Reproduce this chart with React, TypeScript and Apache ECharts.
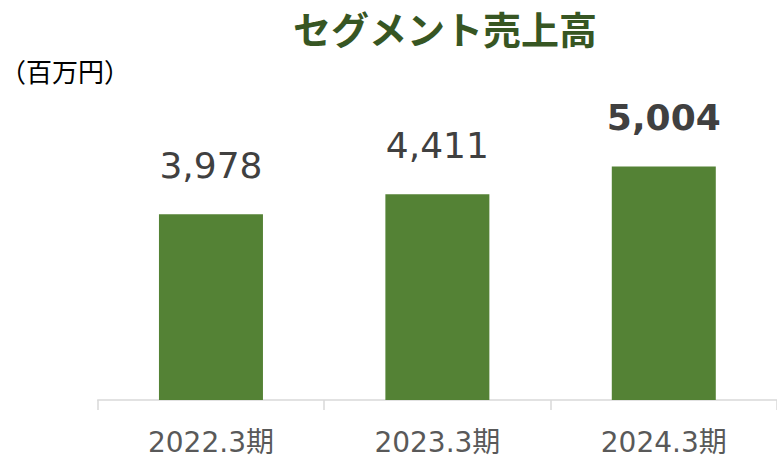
import React, { useEffect, useRef } from "react";
import * as echarts from "echarts";

const categories = ["2022.3期", "2023.3期", "2024.3期"];
const sales = [3978, 4411, 5004];
const highlightIndex = 2;

export default function App() {
  const ref = useRef<HTMLDivElement>(null);
  useEffect(() => {
    if (!ref.current) return;
    const chart = echarts.init(ref.current, null, { renderer: "svg" });
    const fmt = (v: number) => v.toLocaleString("en-US");
    chart.setOption({
      animation: false,
      backgroundColor: "#ffffff",
      title: [
        {
          text: "セグメント売上高",
          left: 440,
          top: 3,
          textAlign: "center",
          textStyle: {
            fontFamily: "Noto Sans CJK JP",
            fontSize: 38,
            fontWeight: "bold",
            color: "#375623",
          },
        },
        {
          text: "（百万円）",
          left: -5,
          top: 52,
          textStyle: {
            fontFamily: "Noto Sans CJK JP",
            fontSize: 26,
            fontWeight: "normal",
            color: "#000000",
          },
        },
      ],
      grid: { left: 97.75, right: -3.75, top: 120, bottom: 60, containLabel: false },
      xAxis: {
        type: "category",
        data: categories,
        axisLine: { show: true, lineStyle: { color: "#d9d9d9", width: 1.5 } },
        axisTick: { show: true, length: 10, lineStyle: { color: "#d9d9d9", width: 1.5 } },
        axisLabel: {
          margin: 29,
          lineHeight: 26,
          fontFamily: "DejaVu Sans, Noto Sans CJK JP",
          fontSize: 28,
          color: "#595959",
        },
      },
      yAxis: {
        type: "value",
        min: 0,
        max: 6000,
        show: false,
        splitLine: { show: false },
      },
      series: [
        {
          type: "bar",
          barWidth: 104,
          itemStyle: { color: "#548235" },
          data: sales.map((v, i) => ({
            value: v,
            label: i === highlightIndex ? { fontWeight: "bold", color: "#404040" } : undefined,
          })),
          label: {
            show: true,
            position: "top",
            distance: 31,
            fontFamily: "DejaVu Sans",
            fontSize: 36,
            color: "#404040",
            formatter: (p: any) => fmt(p.value),
          },
        },
      ],
    });
    return () => chart.dispose();
  }, []);
  return (
    <div
      ref={ref}
      style={{ position: "absolute", left: 0, top: 0, width: 777, height: 460 }}
    />
  );
}
